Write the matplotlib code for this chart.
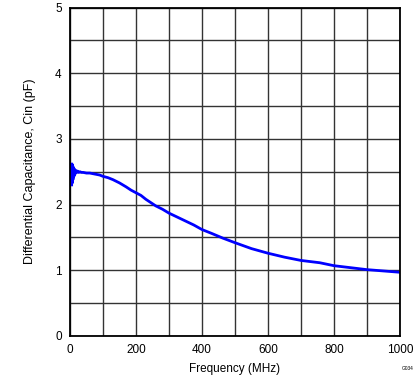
import matplotlib
matplotlib.use("Agg")
import matplotlib.pyplot as plt
from matplotlib.ticker import MultipleLocator

plt.rcParams["font.family"] = ["Liberation Sans", "DejaVu Sans"]

# Frequency (MHz) and differential capacitance (pF)
freq = [5, 6, 7, 8, 9, 10, 11, 12, 13, 14, 16, 18, 20, 23, 26, 30, 35, 40, 50, 60,
        70, 80, 90, 100, 115, 130, 150, 170, 185, 200, 215, 230, 245, 260, 280,
        300, 325, 350, 375, 400, 430, 463, 500, 550, 600, 650, 700, 757, 800,
        850, 900, 950, 1000]
cap = [2.30, 2.62, 2.33, 2.60, 2.38, 2.57, 2.42, 2.55, 2.44, 2.53, 2.47, 2.52, 2.49,
       2.51, 2.49, 2.50, 2.49, 2.49, 2.48, 2.48, 2.47, 2.46, 2.45, 2.43, 2.41,
       2.38, 2.33, 2.27, 2.22, 2.18, 2.14, 2.08, 2.03, 1.98, 1.93, 1.87, 1.81,
       1.75, 1.69, 1.62, 1.56, 1.49, 1.42, 1.33, 1.26, 1.20, 1.15, 1.115, 1.07,
       1.04, 1.01, 0.99, 0.97]

fig = plt.figure(figsize=(4.19, 3.82), dpi=100)
ax = fig.add_axes([70 / 419, 46 / 382, 330 / 419, 328.5 / 382])

ax.plot(freq, cap, color="#0000ff", lw=2.0)

ax.set_xlim(0, 1000)
ax.set_ylim(0, 5)
ax.xaxis.set_major_locator(MultipleLocator(200))
ax.xaxis.set_minor_locator(MultipleLocator(100))
ax.yaxis.set_major_locator(MultipleLocator(1))
ax.yaxis.set_minor_locator(MultipleLocator(0.5))
ax.grid(True, which="both", color="#333333", lw=1.0)
ax.tick_params(which="both", length=0, labelsize=8.5, pad=6, colors="black")
for s in ax.spines.values():
    s.set_linewidth(1.3)
    s.set_color("black")

ax.set_xlabel("Frequency (MHz)", fontsize=8.5, labelpad=5)
ax.set_ylabel("Differential Capacitance, Cin (pF)", fontsize=9, labelpad=14)

fig.text(408 / 419, 1 - 368.5 / 382, "G034", fontsize=3.5, ha="center", va="center")

fig.savefig("out.png", dpi=100)
